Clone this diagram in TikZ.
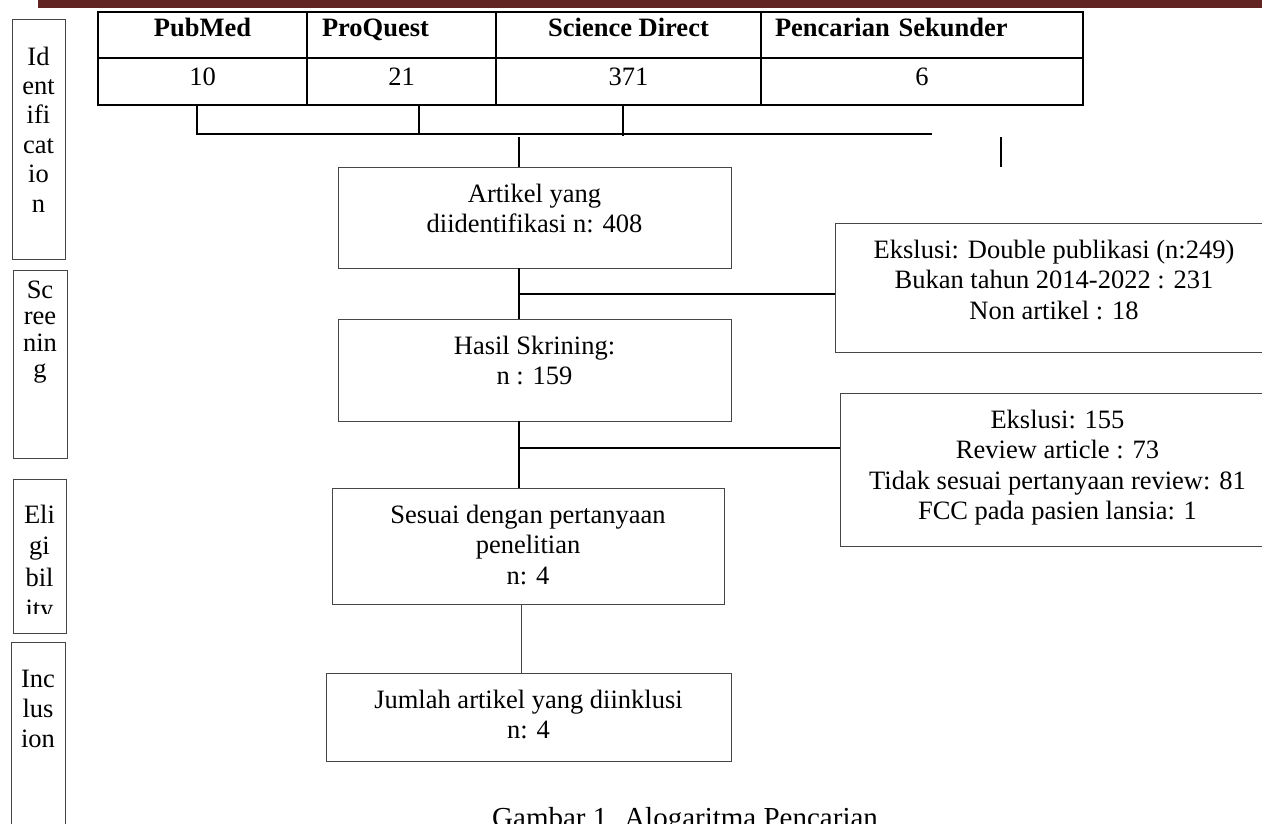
\documentclass[tikz,border=0pt]{standalone}
\usepackage{fontspec}
\setmainfont{Liberation Serif}
\usetikzlibrary{positioning}
\definecolor{bandred}{RGB}{98,36,35}
\definecolor{rulegray}{RGB}{70,70,70}
\newcommand{\boxfont}{\fontsize{26.5}{30.5}\selectfont}
\begin{document}
\begin{tikzpicture}[x=1pt,y=-1pt,
  cell/.style={draw,line width=2pt,inner sep=0pt,outer sep=0pt,font=\boxfont},
  headcell/.style={cell,font=\boxfont\bfseries,text height=24pt,text depth=22pt},
  numcell/.style={cell,text height=27pt,text depth=20pt},
  flow/.style={draw=rulegray,line width=1pt,inner sep=0pt,outer sep=0pt,align=center,font=\boxfont},
  stage/.style={draw=rulegray,line width=1pt,inner sep=0pt,outer sep=0pt},
  stagetext/.style={align=center,inner sep=0pt,anchor=base},
  link/.style={line width=1.5pt}]
\path[use as bounding box,clip] (0,0) rectangle (1262,823);

% header band
\fill[bandred] (38,0) rectangle (1262,8);

% source table
\node[headcell,minimum width=209pt,anchor=north west] (pubmed) at (98,12) {PubMed};
\node[headcell,text width=159pt,inner xsep=15pt,align=left,anchor=north west] (proquest) at (pubmed.north east) {ProQuest};
\node[headcell,minimum width=265pt,anchor=north west] (scidir) at (proquest.north east) {Science Direct};
\node[headcell,text width=294pt,inner xsep=14pt,align=left,anchor=north west] (sekunder) at (scidir.north east) {Pencarian Sekunder};
\node[numcell,minimum width=209pt,anchor=north west] (n10) at (pubmed.south west) {10};
\node[numcell,minimum width=189pt,anchor=north west] (n21) at (proquest.south west) {21};
\node[numcell,minimum width=265pt,anchor=north west] (n371) at (scidir.south west) {371};
\node[numcell,minimum width=322pt,anchor=north west] (n6) at (sekunder.south west) {6};

% bracket under the table
\coordinate (brl) at (197,134);
\coordinate (br2) at (419,134);
\coordinate (br3) at (623,136);
\coordinate (brr) at (932,134);
\draw[link] (n10.south -| brl) -- (brl) -- (brr);
\draw[link] (n21.south -| br2) -- (br2);
\draw[link] (n371.south -| br3) -- (br3);
\coordinate (srA) at (1001,137);
\coordinate (srB) at (1001,167);
\draw[line width=2pt] (srA) -- (srB);

% flow boxes (text height reaches the last baseline)
\node[flow,minimum width=393pt,text height=65.5pt,text depth=35.5pt,anchor=north west] (a1) at (338,167) {Artikel yang\\diidentifikasi n: 408};
\node[flow,minimum width=393pt,text height=65.5pt,text depth=36.5pt,anchor=north west] (a2) at (338,319) {Hasil Skrining:\\n : 159};
\node[flow,minimum width=392pt,text height=96pt,text depth=20pt,anchor=north west] (a3) at (332,488) {Sesuai dengan pertanyaan\\penelitian\\n: 4};
\node[flow,minimum width=405pt,text height=65.5pt,text depth=22.5pt,anchor=north west] (a4) at (326,673) {Jumlah artikel yang diinklusi\\n: 4};
\node[flow,minimum width=438pt,text height=96pt,text depth=33pt,anchor=north west] (e1) at (835,223) {Ekslusi: Double publikasi (n:249)\\Bukan tahun 2014-2022 : 231\\Non artikel : 18};
\node[flow,minimum width=435pt,text height=126.5pt,text depth=26.5pt,anchor=north west] (e2) at (840,393) {Ekslusi: 155\\Review article : 73\\Tidak sesuai pertanyaan review: 81\\FCC pada pasien lansia: 1};

% connectors
\coordinate (stem) at (519,137);
\coordinate (stemb) at (521,0);
\coordinate (x1) at (519,294);
\coordinate (x2) at (519,448);
\draw[link] (stem) -- (stem |- a1.north);
\draw[link] (a1.south -| stem) -- (a2.north -| stem);
\draw[link] (x1) -- (e1.west |- x1);
\draw[link] (a2.south -| stem) -- (a3.north -| stem);
\draw[link] (x2) -- (e2.west |- x2);
\draw[line width=1pt,rulegray] (a3.south -| stemb) -- (a4.north -| stemb);

% stage boxes on the left (base = last line)
\node[stage,minimum width=53pt,minimum height=240pt,anchor=north west] (ident) at (12,19) {};
\node[stagetext,font=\fontsize{26.5}{29.4}\selectfont] (identtxt) at ([yshift=-193pt]ident.north) {Id\\ent\\ifi\\cat\\io\\n};
\node[stage,minimum width=54pt,minimum height=188pt,anchor=north west] (screen) at (13,270) {};
\node[stagetext,font=\fontsize{26.5}{26.5}\selectfont] (screentxt) at ([yshift=-107.5pt]screen.north) {Sc\\ree\\nin\\g};
\node[stage,minimum width=53pt,minimum height=154pt,anchor=north west] (elig) at (13,479) {};
\begin{scope}
  \clip (elig.north west) rectangle (66,613);
  \node[stagetext,font=\fontsize{26.5}{31.5}\selectfont] (eligtxt) at ([yshift=-138.5pt]elig.north) {Eli\\gi\\bil\\ity};
\end{scope}
\node[stage,minimum width=54pt,minimum height=200pt,anchor=north west] (incl) at (11,642) {};
\node[stagetext,font=\fontsize{26.5}{30}\selectfont] (incltxt) at ([yshift=-105pt]incl.north) {Inc\\lus\\ion};

% caption
\node[anchor=base west,inner sep=0pt,font=\fontsize{29}{33}\selectfont] (caption) at (492,827) {Gambar 1. Alogaritma Pencarian};
\end{tikzpicture}
\end{document}
